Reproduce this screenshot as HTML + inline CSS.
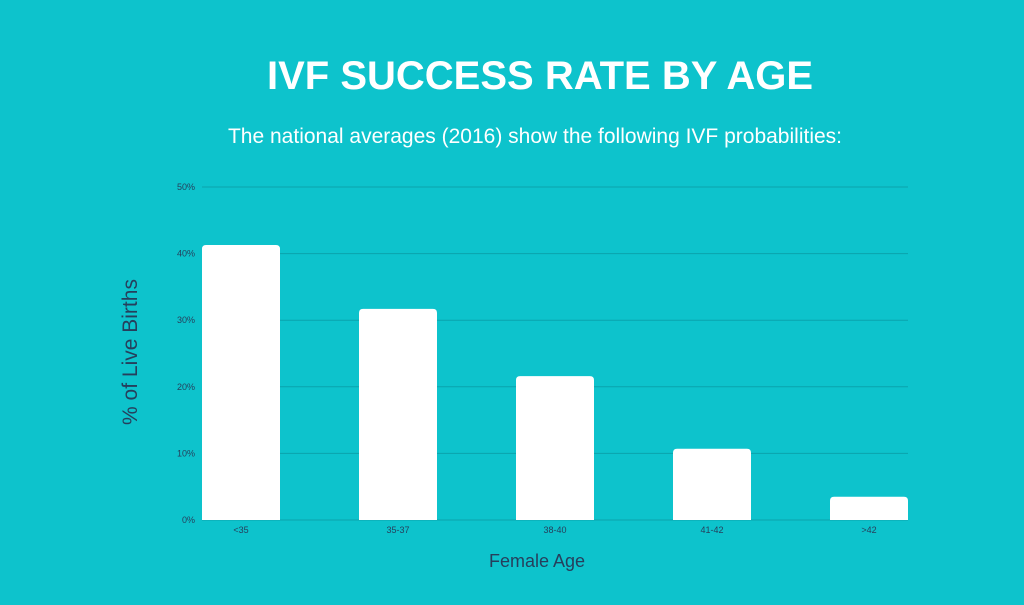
<!DOCTYPE html>
<html><head><meta charset="utf-8"><style>
html,body{margin:0;padding:0;}
body{width:1024px;height:600px;background:#0dc3cc;overflow:hidden;font-family:"Liberation Sans",sans-serif;}
</style></head><body>
<svg width="1024" height="600" xmlns="http://www.w3.org/2000/svg">
<rect width="1024" height="600" fill="#0dc3cc"/>
<text x="540" y="89" text-anchor="middle" font-family="Liberation Sans" font-weight="bold" font-size="40" fill="#fff">IVF SUCCESS RATE BY AGE</text>
<text x="535" y="143" text-anchor="middle" font-family="Liberation Sans" font-size="21" fill="#fff">The national averages (2016) show the following IVF probabilities:</text>
<g id="grid"></g>
<g id="bars"></g>
<g id="labels"></g>
<text x="137" y="352" transform="rotate(-90 137 352)" text-anchor="middle" font-size="21" fill="#263f5c">% of Live Births</text>
<text x="537" y="567" text-anchor="middle" font-size="18" fill="#263f5c">Female Age</text>
</svg>
<script>
const categories = ["<35","35-37","38-40","41-42",">42"];
const values = [41.3, 31.7, 21.6, 10.7, 3.5];
const ticks = [0,10,20,30,40,50];
const tickLabels = ["0%","10%","20%","30%","40%","50%"];
const NS="http://www.w3.org/2000/svg";
const x0=202,x1=908,yBase=520,yTop=187,maxV=50;
const y=v=>yBase-(v/maxV)*(yBase-yTop);
const step=(x1-x0-78)/(categories.length-1), bw=78;
const xc=i=>x0+bw/2+i*step;
const grid=document.getElementById('grid'),bars=document.getElementById('bars'),labels=document.getElementById('labels');
ticks.forEach((t,i)=>{
  const l=document.createElementNS(NS,'line');
  l.setAttribute('x1',x0);l.setAttribute('x2',x1);l.setAttribute('y1',y(t));l.setAttribute('y2',y(t));
  l.setAttribute('stroke','#0aa3ad');l.setAttribute('stroke-width','1');
  
  
  grid.appendChild(l);
  const tx=document.createElementNS(NS,'text');
  tx.setAttribute('x',195);tx.setAttribute('y',y(t)+3);tx.setAttribute('text-anchor','end');
  tx.setAttribute('font-size','9');tx.setAttribute('fill','#263f5c');tx.textContent=tickLabels[i];
  
  
  grid.appendChild(tx);
});
categories.forEach((c,i)=>{
  const top=y(values[i]),h=yBase-top,r=4,xl=xc(i)-bw/2;
  const p=document.createElementNS(NS,'path');
  p.setAttribute('d',`M${xl},${yBase}V${top+r}Q${xl},${top} ${xl+r},${top}H${xl+bw-r}Q${xl+bw},${top} ${xl+bw},${top+r}V${yBase}Z`);
  p.setAttribute('fill','#fff');
  
  
  bars.appendChild(p);
  const tx=document.createElementNS(NS,'text');
  tx.setAttribute('x',xc(i));tx.setAttribute('y',533);tx.setAttribute('text-anchor','middle');
  tx.setAttribute('font-size','9');tx.setAttribute('fill','#263f5c');tx.textContent=c;
  
  
  labels.appendChild(tx);
});
</script>
</body></html>
